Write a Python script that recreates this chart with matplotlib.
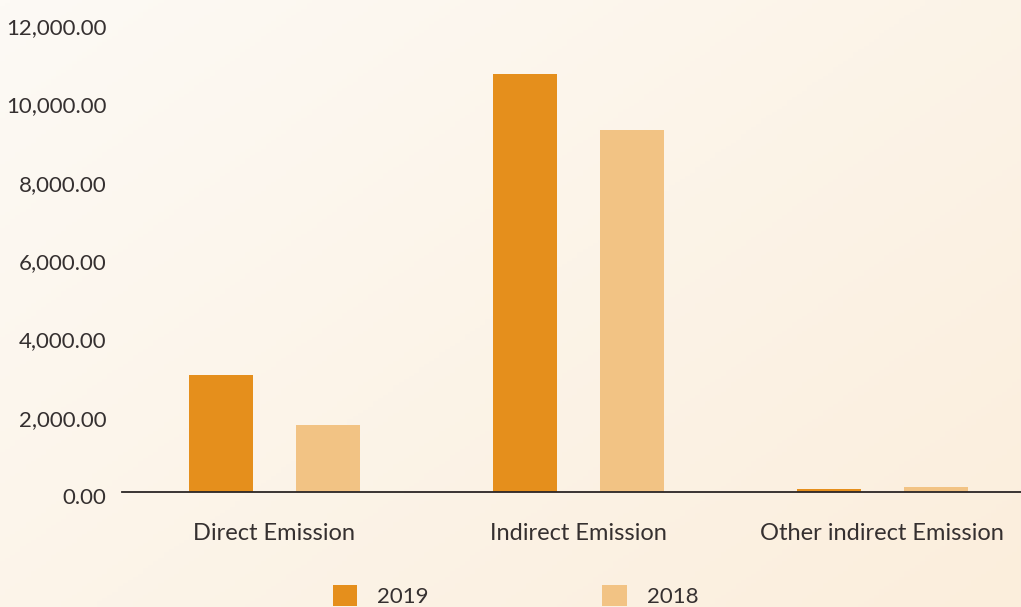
import numpy as np
import matplotlib.pyplot as plt
import matplotlib.transforms as mtransforms
from matplotlib.colors import LinearSegmentedColormap

categories = ['Direct Emission', 'Indirect Emission', 'Other indirect Emission']
years = ['2019', '2018']
values_2019 = [3000, 10680, 80]
values_2018 = [1710, 9230, 130]
yticks = [0, 2000, 4000, 6000, 8000, 10000, 12000]

c2019 = '#E58F1C'
c2018 = '#F2C384'
txt = '#353030'

plt.rcParams['font.family'] = ['Lato', 'DejaVu Sans']

fig = plt.figure(figsize=(10.21, 6.07), dpi=100)

# soft cream background, a little warmer towards the bottom right
bg = fig.add_axes([0, 0, 1, 1], zorder=-10)
gx, gy = np.meshgrid(np.linspace(0, 1, 200), np.linspace(0, 1, 200))
grad = 0.55 * gx + 0.45 * gy
cmap = LinearSegmentedColormap.from_list('cream', ['#FDFAF5', '#FBEEDC'])
bg.imshow(grad, cmap=cmap, extent=[0, 1, 0, 1], aspect='auto', origin='upper')
bg.axis('off')

ax = fig.add_axes([122 / 1021, 1 - 492 / 607, 1 - 122 / 1021, (492 - 22) / 607])
ax.patch.set_alpha(0)

x = np.arange(len(categories))
w = 64 / 304
off = 53.5 / 304
b1 = ax.bar(x - off, values_2019, w, color=c2019, label=years[0])
b2 = ax.bar(x + off, values_2018, w, color=c2018, label=years[1])

ax.set_xlim(-0.5, 2 + (1021 - 882.5) / 304)
ax.set_ylim(0, 12000)
ax.set_yticks(yticks)
ax.set_yticklabels(['{:,.2f}'.format(v) for v in yticks])
ax.set_xticks(x)
ax.set_xticklabels(categories)
ax.tick_params(axis='both', length=0, colors=txt)
ax.tick_params(axis='y', pad=11, labelsize=16)
ax.tick_params(axis='x', pad=22, labelsize=17)
shift = mtransforms.ScaledTranslation(0, -4 / 100, fig.dpi_scale_trans)
for lab in ax.get_yticklabels():
    lab.set_transform(lab.get_transform() + shift)
for s in ['top', 'right', 'left']:
    ax.spines[s].set_visible(False)
ax.spines['bottom'].set_color('#2a2525')
ax.spines['bottom'].set_linewidth(1.3)

fig.legend(handles=[b1, b2], labels=years, loc='upper left',
           bbox_to_anchor=(333 / 1021, 1 - 585 / 607), ncol=2, frameon=False,
           fontsize=16, handlelength=1.1, handleheight=1.1,
           handletextpad=0.9, columnspacing=7.8, borderpad=0, borderaxespad=0,
           labelcolor=txt)

fig.savefig('out.png', dpi=100)
